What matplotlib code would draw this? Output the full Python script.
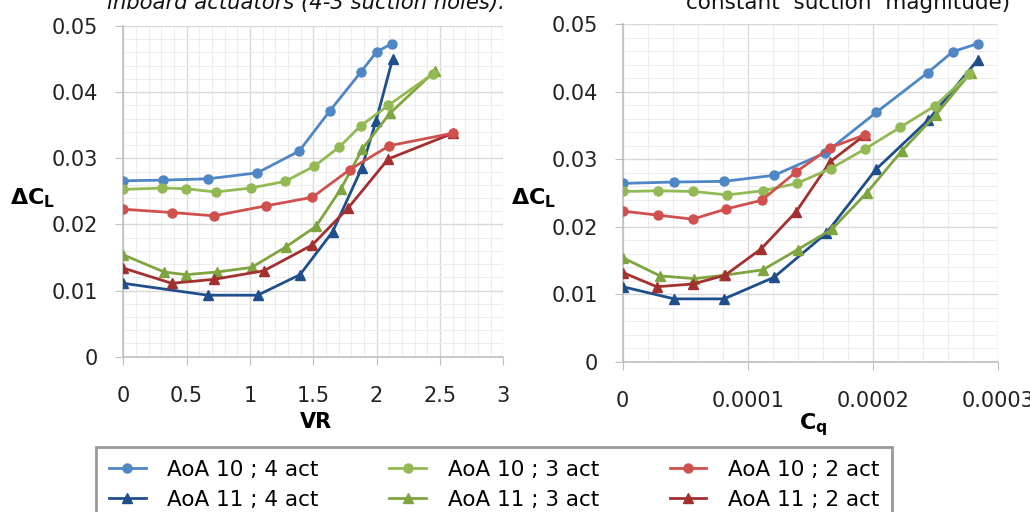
import matplotlib.pyplot as plt
from matplotlib.ticker import MultipleLocator, FuncFormatter

# left panel: delta CL against velocity ratio
vr_b10 = [0, 0.316, 0.671, 1.058, 1.389, 1.632, 1.874, 2.0, 2.118]
cl_b10 = [0.0266, 0.0267, 0.0269, 0.0278, 0.0311, 0.0372, 0.0430, 0.0461, 0.0473]
vr_g10 = [0, 0.308, 0.495, 0.729, 1.005, 1.276, 1.508, 1.705, 1.874, 2.092, 2.447]
cl_g10 = [0.0253, 0.0255, 0.0254, 0.0249, 0.0255, 0.0265, 0.0288, 0.0317, 0.0349, 0.0380, 0.0428]
vr_r10 = [0, 0.382, 0.718, 1.124, 1.492, 1.789, 2.1, 2.605]
cl_r10 = [0.0223, 0.0218, 0.0213, 0.0228, 0.0241, 0.0283, 0.0319, 0.0338]
vr_b11 = [0, 0.666, 1.061, 1.395, 1.653, 1.882, 1.995, 2.126]
cl_b11 = [0.0111, 0.0093, 0.0093, 0.0124, 0.0189, 0.0285, 0.0356, 0.0450]
vr_g11 = [0, 0.324, 0.495, 0.737, 1.013, 1.284, 1.521, 1.716, 1.887, 2.105, 2.461]
cl_g11 = [0.0154, 0.0128, 0.0124, 0.0128, 0.0135, 0.0166, 0.0197, 0.0253, 0.0314, 0.0368, 0.0432]
vr_r11 = [0, 0.382, 0.718, 1.111, 1.492, 1.776, 2.092, 2.605]
cl_r11 = [0.0134, 0.0111, 0.0117, 0.0130, 0.0169, 0.0225, 0.0299, 0.0338]

# right panel: delta CL against suction coefficient
cq_b10 = [0, 0.0000411, 0.0000811, 0.0001211, 0.0001619, 0.0002027, 0.000244, 0.000264, 0.000284]
cq_g10 = [0, 0.0000285, 0.0000565, 0.0000837, 0.000112, 0.0001392, 0.0001664, 0.0001939, 0.0002219, 0.0002499, 0.0002773]
cq_r10 = [0, 0.000028, 0.000056, 0.0000824, 0.0001112, 0.0001387, 0.0001659, 0.0001939]
cq_b11 = [0, 0.0000411, 0.0000811, 0.0001211, 0.0001627, 0.0002027, 0.0002445, 0.000284]
cq_g11 = [0, 0.0000299, 0.0000573, 0.0000813, 0.000112, 0.00014, 0.0001672, 0.0001952, 0.0002232, 0.0002507, 0.0002784]
cq_r11 = [0, 0.0000272, 0.000056, 0.0000819, 0.0001107, 0.0001387, 0.0001659, 0.0001939]
clq_b10 = [0.0264, 0.0266, 0.0267, 0.0276, 0.0309, 0.0369, 0.0428, 0.0459, 0.0471]
clq_g10 = [0.0252, 0.0253, 0.0252, 0.0247, 0.0253, 0.0264, 0.0286, 0.0315, 0.0347, 0.0379, 0.0426]
clq_r10 = [0.0223, 0.0217, 0.0211, 0.0226, 0.0239, 0.0281, 0.0317, 0.0336]
clq_b11 = [0.0111, 0.0093, 0.0093, 0.0125, 0.0190, 0.0285, 0.0358, 0.0447]
clq_g11 = [0.0154, 0.0127, 0.0123, 0.0128, 0.0136, 0.0166, 0.0196, 0.0250, 0.0312, 0.0366, 0.0428]
clq_r11 = [0.0132, 0.0111, 0.0115, 0.0128, 0.0167, 0.0222, 0.0296, 0.0336]

labels = ["AoA 10 ; 4 act", "AoA 10 ; 3 act", "AoA 10 ; 2 act",
          "AoA 11 ; 4 act", "AoA 11 ; 3 act", "AoA 11 ; 2 act"]
colors = ["#4F86C6", "#93B955", "#D0504D", "#1F4E8D", "#7FA540", "#A3302E"]
markers = ["o", "o", "o", "^", "^", "^"]

left_x = [vr_b10, vr_g10, vr_r10, vr_b11, vr_g11, vr_r11]
left_y = [cl_b10, cl_g10, cl_r10, cl_b11, cl_g11, cl_r11]
right_x = [cq_b10, cq_g10, cq_r10, cq_b11, cq_g11, cq_r11]
right_y = [clq_b10, clq_g10, clq_r10, clq_b11, clq_g11, clq_r11]

plt.rcParams["font.family"] = "DejaVu Sans"
fig = plt.figure(figsize=(10.3, 5.12), dpi=100)
ax1 = fig.add_axes([0.1197, 0.3033, 0.3689, 0.6459])
ax2 = fig.add_axes([0.6046, 0.2936, 0.3641, 0.6595])

fmt = FuncFormatter(lambda v, p: "%g" % v)
handles = []
for ax, xs, ys in [(ax1, left_x, left_y), (ax2, right_x, right_y)]:
    for i in range(6):
        ms = 7.5 if markers[i] == "^" else 6.5
        h, = ax.plot(xs[i], ys[i], color=colors[i], marker=markers[i], lw=2, ms=ms,
                     label=labels[i], zorder=3 + (i < 3))
        if ax is ax1:
            handles.append(h)
    ax.set_ylim(0, 0.05)
    ax.yaxis.set_major_locator(MultipleLocator(0.01))
    ax.yaxis.set_minor_locator(MultipleLocator(0.002))
    ax.yaxis.set_major_formatter(fmt)
    ax.xaxis.set_major_formatter(fmt)
    ax.grid(which="major", color="#D9D9D9", lw=1)
    ax.grid(which="minor", color="#EDEDED", lw=0.8)
    ax.set_axisbelow(True)
    for s in ["top", "right"]:
        ax.spines[s].set_visible(False)
    for s in ["left", "bottom"]:
        ax.spines[s].set_color("#BFBFBF")
        ax.spines[s].set_linewidth(1.2)
    ax.tick_params(which="major", direction="out", length=6, color="#BFBFBF",
                   labelsize=15, labelcolor="#222222")
    ax.tick_params(which="minor", length=0)
    ax.tick_params(axis="x", pad=15)
    ax.tick_params(axis="y", pad=12)
    ax.set_ylabel(r"$\mathbf{\Delta C_L}$", rotation=0, fontsize=16, va="center", ha="center")

ax1.set_xlim(0, 3)
ax1.xaxis.set_major_locator(MultipleLocator(0.5))
ax1.xaxis.set_minor_locator(MultipleLocator(0.1))
ax1.set_xlabel("VR", fontsize=15, fontweight="bold", va="center")
ax1.xaxis.set_label_coords(0.507, -0.197)
ax1.yaxis.set_label_coords(-0.24, 0.48)

ax2.set_xlim(0, 0.0003)
ax2.xaxis.set_major_locator(MultipleLocator(0.0001))
ax2.xaxis.set_minor_locator(MultipleLocator(0.00002))
ax2.set_xlabel(r"$\mathbf{C_q}$", fontsize=16, va="center")
ax2.xaxis.set_label_coords(0.507, -0.187)
ax2.yaxis.set_label_coords(-0.237, 0.485)

# captions running off the top edge
fig.text(0.104, 1 - 9 / 512, "inboard actuators (4-3 suction holes).", fontsize=15.2,
         style="italic", va="baseline", ha="left", color="#111111")
fig.text(1010 / 1030, 1 - 9 / 512, "constant  suction  magnitude)", fontsize=15.5,
         va="baseline", ha="right", color="#111111")

order = [0, 3, 1, 4, 2, 5]
leg = fig.legend([handles[i] for i in order], [labels[i] for i in order], ncol=3,
                 loc="upper left", bbox_to_anchor=(96 / 1030, 1 - 447 / 512),
                 fontsize=15.5, frameon=True, fancybox=False, handlelength=1.7,
                 handletextpad=1.0, columnspacing=3.3, labelspacing=0.45,
                 borderpad=0.6, borderaxespad=0)
leg.get_frame().set_edgecolor("#7F7F7F")
leg.get_frame().set_linewidth(2)

fig.savefig("out.png", dpi=100)
